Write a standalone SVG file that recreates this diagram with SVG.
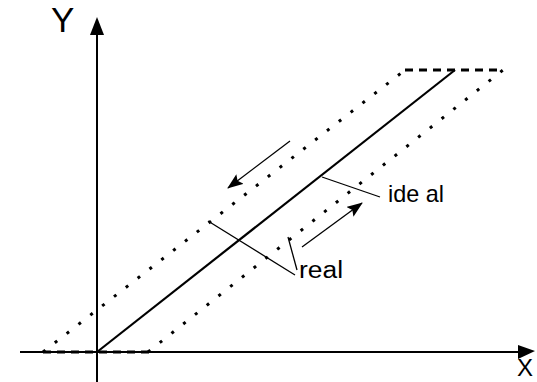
<svg xmlns="http://www.w3.org/2000/svg" width="537" height="382" viewBox="0 0 537 382">
<style>
.axis{stroke:#000;stroke-width:2;fill:none}
.main{stroke:#000;stroke-width:2.2;fill:none}
.dot{stroke:#000;stroke-width:3;fill:none;stroke-dasharray:3 12}
.dash{stroke:#000;stroke-width:3;fill:none;stroke-dasharray:8 6}
.thin{stroke:#000;stroke-width:1.3;fill:none}
.lbl{font-family:"Liberation Sans",Arial,sans-serif;fill:#000}
</style>
<defs>
<marker id="ah" viewBox="0 0 16 12" refX="15" refY="6" markerWidth="16" markerHeight="12" markerUnits="userSpaceOnUse" orient="auto">
<path d="M0,0 L16,6 L0,12 L3,6 Z" fill="#000"/>
</marker>
</defs>
<rect width="537" height="382" fill="#fff"/>
<g id="axes">
<line class="axis" x1="97" y1="382" x2="97" y2="30"/>
<path d="M97,17 L104,35 L90,35 Z" fill="#000"/>
<line class="axis" x1="20" y1="352" x2="522" y2="352"/>
<path d="M535,351 L518,345 L518,359 Z" fill="#000"/>
<text class="lbl" x="51" y="32" font-size="35">Y</text>
<text class="lbl" x="517" y="376" font-size="24">X</text>
</g>
<g id="loop">
<line class="dash" x1="43" y1="352" x2="150" y2="352"/>
<line class="dash" x1="405" y1="70" x2="500" y2="70"/>
<line class="dot" x1="43" y1="352" x2="405" y2="70"/>
<line class="dot" x1="148" y1="352" x2="503" y2="70"/>
</g>
<g id="ideal-line">
<line class="main" x1="97" y1="352" x2="455" y2="70"/>
</g>
<g id="connectors">
<line class="thin" x1="290" y1="141" x2="228" y2="188" marker-end="url(#ah)"/>
<line class="thin" x1="302" y1="247" x2="362" y2="203" marker-end="url(#ah)"/>
<line class="thin" x1="322" y1="177" x2="380" y2="197"/>
<line class="thin" x1="208" y1="221" x2="295" y2="275"/>
<line class="thin" x1="288" y1="237" x2="297" y2="270"/>
</g>
<g id="labels">
<text class="lbl" x="388" y="202" font-size="24" textLength="56" lengthAdjust="spacingAndGlyphs">ide al</text>
<text class="lbl" x="299" y="278" font-size="23" textLength="44" lengthAdjust="spacingAndGlyphs">real</text>
</g>
</svg>
